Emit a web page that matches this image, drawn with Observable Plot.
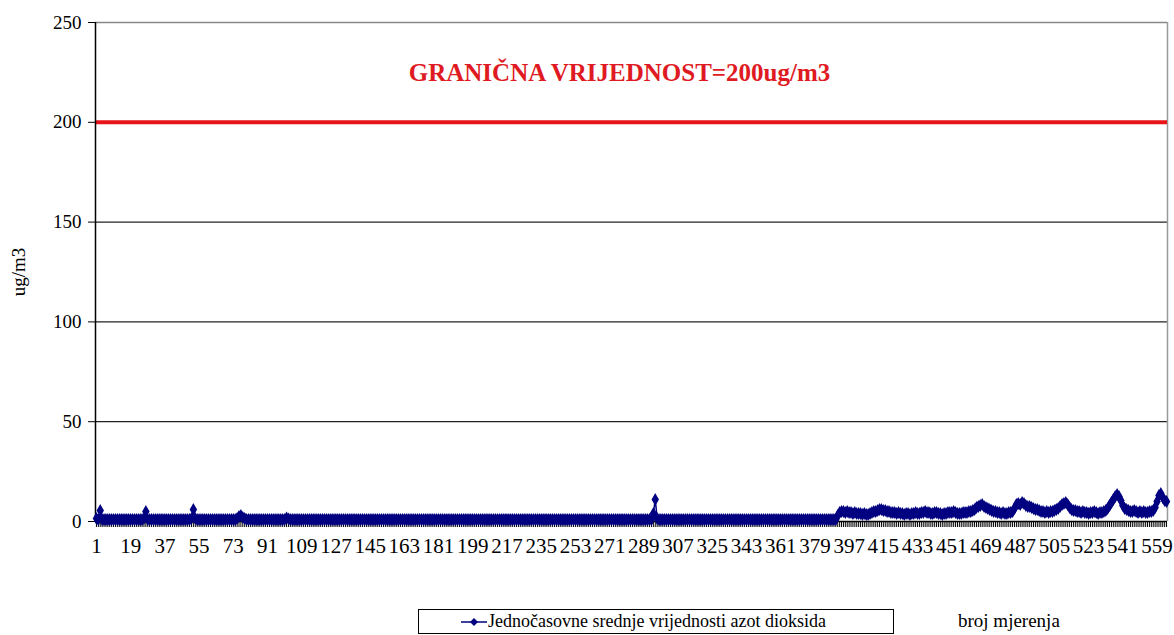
<!DOCTYPE html>
<html>
<head>
<meta charset="utf-8">
<script src="https://cdn.jsdelivr.net/npm/d3@7"></script>
<script src="https://cdn.jsdelivr.net/npm/@observablehq/plot@0.6"></script>
<style>
  html, body { margin: 0; padding: 0; background: #fff; }
  #wrap { position: relative; width: 1174px; height: 635px; overflow: hidden; }
  #legend { position: absolute; left: 418px; top: 609px; width: 476px; height: 25px; border: 1px solid #000; box-sizing: border-box; }
  #legend svg { position: absolute; left: 42px; top: 4px; }
  .serif { font-family: 'Liberation Serif', 'Times New Roman', serif; color: #000; white-space: nowrap; }
  #legendText { position: absolute; left: 69px; top: 1px; font-size: 18px; }
  #xname { position: absolute; left: 958px; top: 610px; font-size: 19px; }
</style>
</head>
<body>
<div id="wrap">
  <div id="chart"></div>
  <div id="legend">
    <svg width="26" height="16"><line x1="0" y1="8" x2="26" y2="8" stroke="#000080" stroke-width="1.5"/><path d="M13,4 L17,8 L13,12 L9,8 Z" fill="#000080"/></svg>
    <span id="legendText" class="serif"></span>
  </div>
  <div id="xname" class="serif"></div>
</div>
<script>
// Hourly mean values of NO2 (ug/m3), measurements 1..564
const values = [
  // 1-30
  1.5,1,5.5,1,1,1,1,1,1,1, 1,1,1,1,1,1,1,1,1,1, 1,1,1,1,1,1.5,5,1,1,1,
  // 31-60
  1,1,1,1,1,1,1,1,1,1, 1,1,1,1,1,1,1,1,1,1, 1.5,6,1.5,1,1,1,1,1,1,1,
  // 61-90
  1,1,1,1,1,1,1,1,1,1, 1,1,1,1,1.5,2.5,3,2,1.5,1, 1,1,1,1,1,1,1,1,1,1,
  // 91-120
  1,1,1,1,1,1,1,1,1,1, 1.8,1.3,1,1,1,1,1,1,1,1, 1,1,1,1,1,1,1,1,1,1,
  // 121-150
  1,1,1,1,1,1,1,1,1,1, 1,1,1,1,1,1,1,1,1,1, 1,1,1,1,1,1,1,1,1,1,
  // 151-180
  1,1,1,1,1,1,1,1,1,1, 1,1,1,1,1,1,1,1,1,1, 1,1,1,1,1,1,1,1,1,1,
  // 181-210
  1,1,1,1,1,1,1,1,1,1, 1,1,1,1,1,1,1,1,1,1, 1,1,1,1,1,1,1,1,1,1,
  // 211-240
  1,1,1,1,1,1,1,1,1,1, 1,1,1,1,1,1,1,1,1,1, 1,1,1,1,1,1,1,1,1,1,
  // 241-270
  1,1,1,1,1,1,1,1,1,1, 1,1,1,1,1,1,1,1,1,1, 1,1,1,1,1,1,1,1,1,1,
  // 271-300
  1,1,1,1,1,1,1,1,1,1, 1,1,1,1,1,1,1,1,1,1, 1,1,1,4,11,1.5,1,1,1,1,
  // 301-330
  1,1,1,1,1,1,1,1,1,1, 1,1,1,1,1,1,1,1,1,1, 1,1,1,1,1,1,1,1,1,1,
  // 331-360
  1,1,1,1,1,1,1,1,1,1, 1,1,1,1,1,1,1,1,1,1, 1,1,1,1,1,1,1,1,1,1,
  // 361-390
  1,1,1,1,1,1,1,1,1,1, 1,1,1,1,1,1,1,1,1,1, 1,1,1,1,1,1,1,1,1,1,
  // 391-564
  3,4.5,5,5,4.5,5,4.5,4.5,4,4.5,
  4,4,4,3.5,4,3.5,3.5,4,4.5,5,
  5,5.5,6,6,5.5,5.5,5,5,4.5,4.5,
  4.5,4,4.5,4,4,3.5,4,4,3.5,4,
  4,4.5,4,4,4.5,4.5,5,4.5,4.5,4,
  4,4.5,4.5,4,4,3.5,4,4,4.5,4.5,
  4.5,5,4.5,4,4,4,4.5,4.5,4.5,5,
  5,5.5,6,7,7.5,8,8.5,7.5,7,6.5,
  6,5.5,5,5,4.5,4.5,4,4.5,4,4,
  4.5,4.5,5,6.5,8.5,9,8.5,9.5,9,8,
  7.5,7.5,7,6.5,6,6,5.5,5,5,4.5,
  5,4.5,5,5,5.5,6,6.5,7.5,8.5,9,
  9.5,8.5,7,6,5.5,5.5,5,5,4.5,5,
  4.5,4.5,4,4.5,4.5,5,4.5,4,4.5,4.5,
  5,5.5,6.5,8,9.5,11,12.5,13.5,12.5,10.5,
  8,6.5,6,5.5,5,5,5.5,5,4.5,5,
  4.5,5,4.5,4.5,5,5,5.5,7,10,13,
  14,12,10.5,10
];
const xTickLabels = [1,19,37,55,73,91,109,127,145,163,181,199,217,235,253,271,289,307,325,343,361,379,397,415,433,451,469,487,505,523,541,559];
const yTicks = [0,50,100,150,200,250];
const limitValue = 200;
const limitText = "GRANIČNA VRIJEDNOST=200ug/m3";
const yLabel = "ug/m3";
const xLabel = "broj mjerenja";
const seriesName = "Jednočasovne srednje vrijednosti azot dioksida";

const n = values.length;
const measurements = values.map((v, i) => ({i: i + 1, v}));
const allTicks = measurements.map(d => d.i);

const chart = Plot.plot({
  width: 1174,
  height: 600,
  marginLeft: 95,
  marginRight: 7,
  marginTop: 22,
  marginBottom: 79,
  style: {fontFamily: "'Liberation Serif', 'Times New Roman', serif", fontSize: "19px", color: "#000", background: "#fff"},
  x: {domain: [0.5, n + 0.5]},
  y: {domain: [0, 250]},
  marks: [
    Plot.ruleY([50, 100, 150], {stroke: "#222", strokeWidth: 1.3}),
    Plot.ruleY([250], {stroke: "#888", strokeWidth: 1.5}),
    Plot.ruleX([n + 0.5], {stroke: "#999", strokeWidth: 1.5}),
    Plot.ruleY([limitValue], {stroke: "#e8141a", strokeWidth: 4}),
    Plot.axisY({ticks: yTicks, tickSize: 7, tickPadding: 7, label: yLabel, labelAnchor: "center", labelArrow: "none", labelOffset: 84, fontSize: 19}),
    Plot.axisX({ticks: allTicks, tickSize: 6, tickFormat: () => "", label: null, strokeWidth: 1}),
    Plot.axisX({ticks: xTickLabels, tickSize: 0, tickPadding: 17, label: null, fontSize: 21}),
    Plot.ruleX([0.5], {stroke: "#000", strokeWidth: 1.5}),
    Plot.ruleY([0], {stroke: "#000", strokeWidth: 1.5}),
    Plot.line(measurements, {x: "i", y: "v", stroke: "#000080", strokeWidth: 1.5}),
    Plot.dot(measurements, {x: "i", y: "v", symbol: "diamond", r: 3, fill: "#000080", stroke: "#000080"}),
    Plot.text([limitText], {frameAnchor: "top", dy: 41, dx: -12, fill: "#e01a22", fontWeight: "bold", fontSize: 25, fontFamily: "'Liberation Serif', 'Times New Roman', serif"})
  ]
});
document.getElementById("chart").appendChild(chart);
document.getElementById("legendText").textContent = seriesName;
document.getElementById("xname").textContent = xLabel;
</script>
</body>
</html>
